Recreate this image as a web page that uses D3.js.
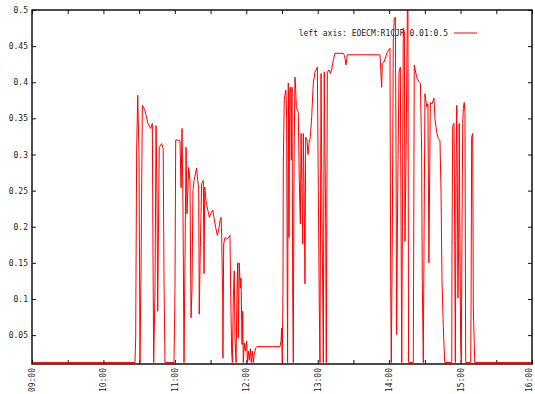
<!DOCTYPE html>
<html>
<head>
<meta charset="utf-8">
<script src="https://cdn.jsdelivr.net/npm/d3@7"></script>
<style>
  body { margin: 0; background: #fff; }
  svg { display: block; }
  .tick text { font-family: "DejaVu Sans Mono", monospace; font-size: 8px; fill: #222; }
</style>
</head>
<body>
<svg id="chart"></svg>
<script>
// minutes since 09:00
const minutes = [
  0, 86.5, 87.1, 87.9, 88.8, 89.9, 90.7, 91.6, 92.7, 94.9, 97.4, 99.7, 101.1, 101.6, 102.2,
  103.3, 104.2, 105.0, 105.6, 106.4, 106.9, 108.9, 110.2, 110.9, 111.7, 119.3,
  120.1, 120.7, 122.6, 124.3, 125.2, 126.0, 126.8, 127.7, 129.4, 130.2, 131.6, 132.7,
  133.6, 134.4, 135.2, 136.1, 138.3, 139.2, 140.0, 140.5, 141.4, 142.5, 143.9, 144.5,
  145.1, 146.2, 147.3, 149.0, 150.4, 151.8, 152.9, 154.3, 155.7, 157.1, 157.9, 158.8,
  159.3, 160.2, 160.4, 161.0, 162.1, 163.5, 165.2, 166.3, 166.9, 167.7, 168.3, 169.1,
  169.9, 170.5, 171.4, 172.2, 172.8, 173.3, 174.1, 175.0, 175.6, 176.4, 177.0, 177.5,
  178.3, 179.2, 180.3, 180.9, 181.7, 182.5, 183.4, 184.2, 185.1, 185.9, 186.7, 187.9,
  188.7, 208.3, 209.2, 209.7, 210.2, 210.8, 211.1, 211.9, 212.5, 213.3, 213.9, 214.4,
  214.7, 215.3, 215.9, 216.5, 217.3, 217.8, 218.4, 219.0, 219.5, 220.1, 220.9, 221.5,
  222.0, 223.2, 223.7, 224.5, 225.4, 226.0, 226.8, 227.4, 227.9, 228.5, 229.3, 229.9,
  231.0, 231.8, 232.7, 233.8, 234.9, 236.3, 237.7, 239.7, 240.5, 241.3, 241.9, 242.8,
  243.6, 244.2, 244.7, 245.5, 246.1, 246.7, 247.2, 248.1, 249.5, 250.6, 251.7, 253.1,
  254.5, 261.5, 262.5, 263.8, 264.9, 292.3, 293.7, 294.2, 295.7, 298.5, 300.7, 301.3,
  301.8, 302.7, 303.5, 304.3, 305.2, 305.8, 306.3, 307.2, 308.3, 309.4, 310.0, 310.6,
  311.4, 311.9, 312.8, 313.3, 314.2, 315.3, 315.8, 316.3, 320.3, 321.1, 323.1, 325.1,
  326.3, 327.3, 327.8, 328.7, 329.4, 330.1, 331.5, 332.6, 333.4, 334.6, 336.0, 337.7,
  338.5, 339.9, 341.3, 342.7, 343.6, 344.4, 345.5, 346.7, 352.6, 352.8, 353.4, 354.5,
  355.1, 355.6, 356.2, 356.8, 357.3, 357.8, 358.4, 358.9, 359.5, 360.1, 360.6, 361.2,
  361.8, 362.3, 363.1, 363.7, 364.3, 368.5, 368.8, 369.3, 370.2, 370.7, 371.9, 420
];
const values = [
  0.012, 0.012, 0.046, 0.305, 0.382, 0.30, 0.012, 0.143, 0.368, 0.361, 0.343, 0.336, 0.343, 0.176, 0.012,
  0.11, 0.34, 0.24, 0.083, 0.23, 0.31, 0.315, 0.308, 0.125, 0.012, 0.012,
  0.115, 0.32, 0.32, 0.319, 0.254, 0.336, 0.232, 0.012, 0.31, 0.218, 0.282, 0.264,
  0.074, 0.115, 0.25, 0.264, 0.281, 0.264, 0.254, 0.079, 0.171, 0.26, 0.264, 0.135,
  0.255, 0.236, 0.226, 0.213, 0.219, 0.223, 0.213, 0.199, 0.188, 0.199, 0.208, 0.213,
  0.19, 0.097, 0.018, 0.176, 0.185, 0.183, 0.185, 0.188, 0.107, 0.028, 0.012, 0.101,
  0.139, 0.046, 0.012, 0.111, 0.15, 0.046, 0.15, 0.115, 0.129, 0.037, 0.083, 0.012,
  0.039, 0.028, 0.042, 0.012, 0.028, 0.015, 0.031, 0.012, 0.028, 0.012, 0.024, 0.032,
  0.034, 0.034, 0.042, 0.06, 0.012, 0.107, 0.288, 0.376, 0.383, 0.389, 0.35, 0.107,
  0.012, 0.399, 0.185, 0.389, 0.393, 0.292, 0.393, 0.107, 0.012, 0.288, 0.407, 0.39,
  0.366, 0.361, 0.358, 0.264, 0.204, 0.329, 0.246, 0.176, 0.329, 0.26, 0.121, 0.324,
  0.32, 0.3, 0.315, 0.324, 0.351, 0.399, 0.414, 0.421, 0.254, 0.093, 0.012, 0.412,
  0.213, 0.111, 0.012, 0.414, 0.31, 0.208, 0.012, 0.414, 0.417, 0.412, 0.417, 0.431,
  0.44, 0.44, 0.437, 0.424, 0.438, 0.438, 0.393, 0.425, 0.428, 0.442, 0.447, 0.12,
  0.012, 0.2, 0.46, 0.489, 0.49, 0.3, 0.051, 0.25, 0.414, 0.421, 0.2, 0.012,
  0.3, 0.475, 0.47, 0.18, 0.3, 0.5, 0.5, 0.012, 0.012, 0.424, 0.407, 0.4,
  0.398, 0.303, 0.13, 0.012, 0.206, 0.384, 0.366, 0.37, 0.15, 0.372, 0.37, 0.378,
  0.35, 0.331, 0.322, 0.319, 0.246, 0.125, 0.06, 0.012, 0.012, 0.176, 0.34, 0.343,
  0.181, 0.012, 0.28, 0.368, 0.26, 0.101, 0.176, 0.343, 0.176, 0.032, 0.012, 0.192,
  0.343, 0.364, 0.372, 0.358, 0.012, 0.012, 0.086, 0.324, 0.329, 0.088, 0.012, 0.012
];

const yTicks = [0.05, 0.1, 0.15, 0.2, 0.25, 0.3, 0.35, 0.4, 0.45, 0.5];
const yTickLabels = ["0.05", "0.1", "0.15", "0.2", "0.25", "0.3", "0.35", "0.4", "0.45", "0.5"];
const xTickLabels = ["09:00", "10:00", "11:00", "12:00", "13:00", "14:00", "15:00", "16:00"];
const legendLabel = "left axis: EOECM:R1CJR 0.01:0.5";

const W = 535, H = 394;
const m = { top: 10, right: 3, bottom: 30, left: 32 };

const svg = d3.select("#chart").attr("width", W).attr("height", H);

const x = d3.scaleLinear().domain([0, 420]).range([m.left, W - m.right]);
const y = d3.scaleLinear().domain([0.01, 0.5]).range([H - m.bottom, m.top]);

const data = minutes.map((t, i) => ({ t, v: values[i] }));

// half-hour ticks, labels on the hour
const xTickVals = d3.range(0, 421, 30);

const bottomAxis = d3.axisBottom(x).tickValues(xTickVals).tickSize(-4).tickSizeOuter(0)
  .tickFormat(d => d % 60 === 0 ? xTickLabels[d / 60] : "");
const gb = svg.append("g").attr("transform", `translate(0,${y.range()[0]})`).call(bottomAxis);
gb.selectAll("text")
  .attr("transform", "rotate(-90)")
  .attr("x", -4).attr("y", 0)
  // last label sits on the window edge, pull it in a little
  .attr("dy", d => d === 420 ? "-0.1em" : "0.32em")
  .attr("text-anchor", "end");

svg.append("g").attr("transform", `translate(0,${m.top})`)
  .call(d3.axisTop(x).tickValues(xTickVals).tickSize(-4).tickSizeOuter(0).tickFormat(""));

svg.append("g").attr("transform", `translate(${m.left},0)`)
  .call(d3.axisLeft(y).tickValues(yTicks).tickSize(-4).tickPadding(4).tickSizeOuter(0)
    .tickFormat((d, i) => yTickLabels[i]));

svg.append("g").attr("transform", `translate(${W - m.right},0)`)
  .call(d3.axisRight(y).tickValues(yTicks).tickSize(-4).tickSizeOuter(0).tickFormat(""));

svg.selectAll(".domain").remove();
svg.selectAll(".tick line").attr("stroke", "#111");

// legend (drawn under the line, as in the original)
svg.append("text")
  .attr("x", 448).attr("y", 36)
  .attr("text-anchor", "end")
  .attr("font-family", "'DejaVu Sans Mono', monospace")
  .attr("font-size", "8px")
  .attr("fill", "#222")
  .text(legendLabel);
svg.append("line")
  .attr("x1", 454).attr("x2", 477).attr("y1", 33).attr("y2", 33)
  .attr("stroke", "#ff0000").attr("stroke-width", 1);

const line = d3.line().x(d => x(d.t)).y(d => y(d.v));
svg.append("path")
  .datum(data)
  .attr("d", line)
  .attr("fill", "none")
  .attr("stroke", "#ff0000")
  .attr("stroke-width", 1);

// frame
svg.append("rect")
  .attr("x", m.left).attr("y", m.top)
  .attr("width", W - m.right - m.left).attr("height", y.range()[0] - m.top)
  .attr("fill", "none").attr("stroke", "#111").attr("stroke-width", 1.5);
</script>
</body>
</html>
